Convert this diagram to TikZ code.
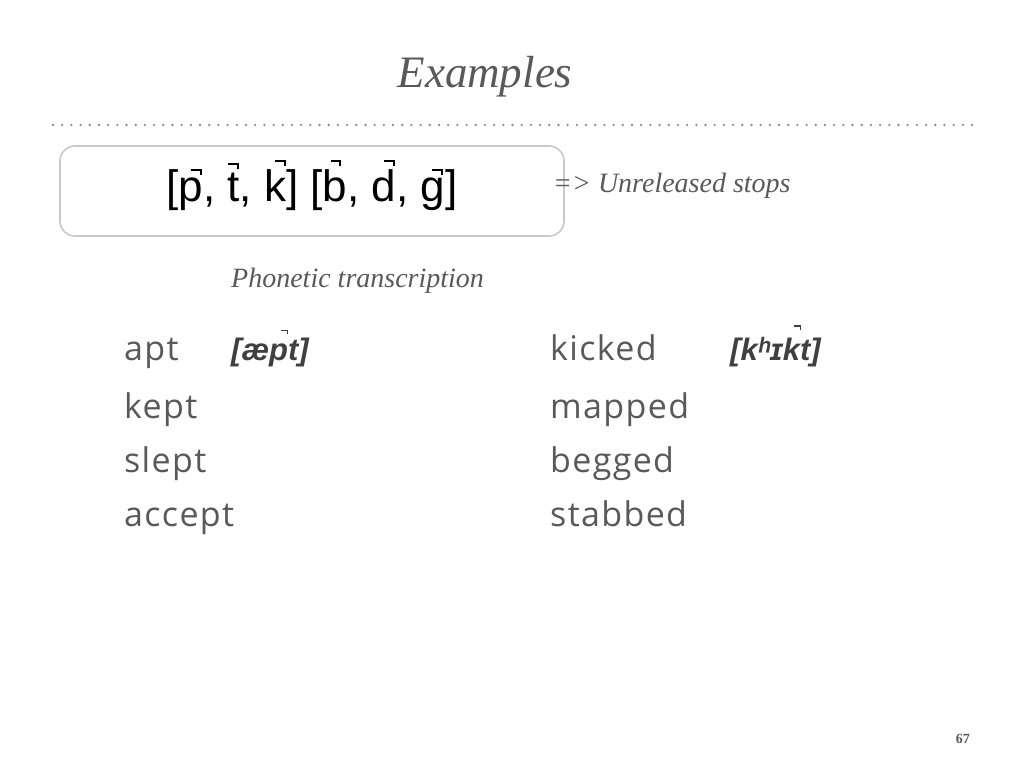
\documentclass[tikz,border=0pt]{standalone}
\usepackage{fontspec}
\setmainfont{Liberation Serif}
\newfontfamily\boxfont{Liberation Sans}
\newfontfamily\listfont[LetterSpace=4]{Open Sans}
\usetikzlibrary{positioning}
\definecolor{txtgray}{HTML}{595959}
\definecolor{ipagray}{HTML}{404040}
\definecolor{boxgray}{HTML}{C8C8C8}
\definecolor{dotgray}{HTML}{8C8C8C}
% unreleased mark: #1 = height of top of the mark above baseline
\newcommand\unrmark[1]{\rlap{\rule[\dimexpr#1-0.045em\relax]{0.24em}{0.045em}}\kern0.195em\rule[\dimexpr#1-0.14em\relax]{0.045em}{0.14em}}
% \unr[shift]{height}{letter}
\newcommand\unr[3][0em]{\ooalign{#3\cr\hidewidth\kern#1\unrmark{#2}\kern-#1\hidewidth\cr}}
\tikzset{
  titletext/.style={font=\fontsize{45}{52}\selectfont\itshape, text=txtgray, inner sep=0pt},
  notetext/.style={font=\fontsize{28}{32}\selectfont\itshape, text=txtgray, inner sep=0pt},
  wordtext/.style={font=\listfont\fontsize{34}{40}\selectfont, text=txtgray, inner sep=0pt, anchor=base west},
  ipatext/.style={font=\boxfont\fontsize{31}{36}\selectfont\bfseries\itshape, text=ipagray, inner sep=0pt, anchor=base west},
  panel/.style={draw=boxgray, line width=1.6pt, rounded corners=15pt},
  dotline/.style={draw=dotgray, line width=2.6pt, line cap=round, dash pattern=on 0pt off 9.19pt},
}
\begin{document}
\begin{tikzpicture}[x=1pt,y=-1pt]
\useasboundingbox (0,0) rectangle (1024,768);
\node[titletext, anchor=base] (title) at (485,87) {Examples};
\coordinate (dl) at (53,125);
\coordinate (dr) at (973,125);
\draw[dotline] (dl) -- (dr);
\draw[panel] (60,146) rectangle (564,236);
\node[font=\boxfont\fontsize{44}{50}\selectfont, inner sep=0pt, anchor=base] (stops) at (312,201) {[\unr[0.12em]{0.73em}{p}, \unr[-0.01em]{0.86em}{t}, \unr[0.12em]{0.93em}{k}] [\unr[0.02em]{0.93em}{b}, \unr[0.12em]{0.93em}{d}, \unr[0.1em]{0.73em}{g}]};
\node[notetext, anchor=base west] (unrel) at (553,192) {=> Unreleased stops};
\node[notetext, anchor=base west] (phon) at (231,287) {Phonetic transcription};
\node[wordtext] (w1) at (124,360) {apt};
\node[wordtext] (w2) at (124,418) {kept};
\node[wordtext] (w3) at (124,472) {slept};
\node[wordtext] (w4) at (124,526) {accept};
\node[wordtext] (w5) at (550,360) {kicked};
\node[wordtext] (w6) at (550,418) {mapped};
\node[wordtext] (w7) at (550,472) {begged};
\node[wordtext] (w8) at (550,526) {stabbed};
\node[ipatext] (t1) at (231,360) {[æ\unr[0.2em]{0.98em}{p}t]};
\node[ipatext] (t2) at (730,360) {[kʰɪ\unr[0.2em]{1.12em}{k}t]};
\node[font=\fontsize{14}{16}\selectfont\bfseries, text=txtgray, inner sep=0pt, anchor=base east] (pg) at (970,743) {67};
\end{tikzpicture}
\end{document}
